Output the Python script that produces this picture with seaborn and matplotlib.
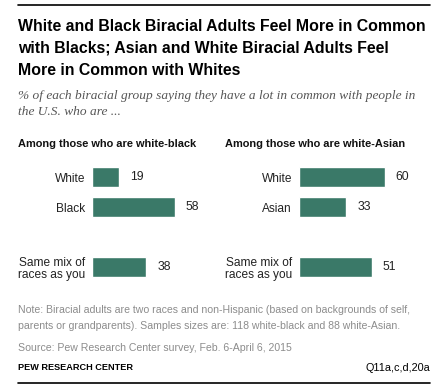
import numpy as np
import pandas as pd
import seaborn as sns
import matplotlib.pyplot as plt
from matplotlib.lines import Line2D

# data
mix_label = "Same mix of\nraces as you"
wb_groups = ["White", "Black", mix_label]
wb_values = [19, 58, 38]
wa_groups = ["White", "Asian", mix_label]
wa_values = [60, 33, 51]

title = ("White and Black Biracial Adults Feel More in Common\n"
         "with Blacks; Asian and White Biracial Adults Feel\n"
         "More in Common with Whites")
subtitle = ("% of each biracial group saying they have a lot in common with people in\n"
            "the U.S. who are ...")
note = ("Note: Biracial adults are two races and non-Hispanic (based on backgrounds of self,\n"
        "parents or grandparents). Samples sizes are: 118 white-black and 88 white-Asian.")
source = "Source: Pew Research Center survey, Feb. 6-April 6, 2015"

bar_color = "#3A7968"
W, H = 443, 387

sns.set_style('white')
plt.rcParams['font.family'] = ['Liberation Sans', 'DejaVu Sans']

fig = plt.figure(figsize=(W / 100, H / 100), dpi=100)


def px(x0, y0, w, h):
    # pixel box (top-left origin) -> figure fraction rect
    return [x0 / W, 1 - (y0 + h) / H, w / W, h / H]


def panel(rect, groups, values, heading, hx):
    ax = fig.add_axes(rect)
    df = pd.DataFrame({'group': groups, 'value': values})
    order = [groups[0], groups[1], " ", groups[2]]
    sns.barplot(data=df, x='value', y='group', order=order, color=bar_color,
                width=0.67, saturation=1, ax=ax)
    ax.set_xlim(0, 70)
    ax.set_ylim(3.5, -0.5)
    ax.set_xlabel('')
    ax.set_ylabel('')
    ax.set_xticks([])
    ax.tick_params(axis='y', length=0, pad=5)
    for lab in ax.get_yticklabels():
        lab.set_fontsize(8.6)
        lab.set_color('#222222')
        lab.set_linespacing(1.1)
    sns.despine(ax=ax, left=True, bottom=True)
    ax.bar_label(ax.containers[0], padding=8, fontsize=8.8, color='#222222')
    fig.text(hx / W, 1 - 144 / H, heading, fontsize=7.9, fontweight='bold',
             va='center', ha='left', color='#111111')
    return ax


panel(px(92, 162, 100, 120), wb_groups, wb_values,
      "Among those who are white-black", 18)
panel(px(299, 162, 100, 120), wa_groups, wa_values,
      "Among those who are white-Asian", 225)

fig.text(18 / W, 1 - 19 / H, title, fontsize=11.4, fontweight='bold',
         va='top', ha='left', color='#000000', linespacing=1.58)
fig.text(18 / W, 1 - 90 / H, subtitle, fontsize=9.6, style='italic',
         family=['Liberation Serif', 'DejaVu Serif'], va='top', ha='left',
         color='#555555', linespacing=1.45)
fig.text(18 / W, 1 - 305 / H, note, fontsize=7.6, va='top', ha='left',
         color='#8c8c8c', linespacing=1.75)
fig.text(18 / W, 1 - 348 / H, source, fontsize=7.6, va='center', ha='left',
         color='#8c8c8c')
fig.text(18 / W, 1 - 368 / H, "PEW RESEARCH CENTER", fontsize=6.6,
         fontweight='bold', va='center', ha='left', color='#000000')
fig.text(430 / W, 1 - 368 / H, "Q11a,c,d,20a", fontsize=7.8,
         va='center', ha='right', color='#000000')

for yy in (5, 383):
    fig.add_artist(Line2D([18 / W, 430 / W], [1 - yy / H, 1 - yy / H],
                          color='black', lw=1.2))

fig.savefig('out.png', dpi=100)
